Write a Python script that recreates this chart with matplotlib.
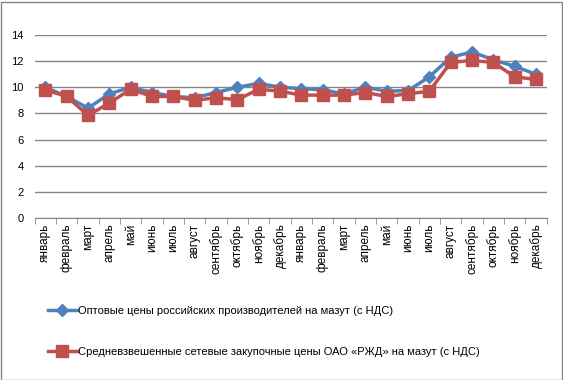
import matplotlib
matplotlib.use("Agg")
from matplotlib import pyplot as plt
from matplotlib.patches import Rectangle
import numpy as np

plt.rcParams['font.family'] = ['Liberation Sans', 'DejaVu Sans']

months = ["январь", "февраль", "март", "апрель", "май", "июнь", "июль", "август",
          "сентябрь", "октябрь", "ноябрь", "декабрь"]
labels = months + months

wholesale = [10.0, 9.3, 8.4, 9.5, 10.0, 9.6, 9.3, 9.2, 9.6, 10.0, 10.3, 10.0,
             9.9, 9.8, 9.5, 10.0, 9.7, 9.75, 10.8, 12.3, 12.7, 12.1, 11.6, 11.0]
rzd = [9.8, 9.3, 7.85, 8.8, 9.85, 9.3, 9.3, 9.0, 9.2, 9.05, 9.85, 9.7,
       9.4, 9.4, 9.4, 9.6, 9.3, 9.5, 9.7, 11.9, 12.05, 11.9, 10.8, 10.6]

name1 = "Оптовые цены российских производителей на мазут (с НДС)"
name2 = "Средневзвешенные сетевые закупочные цены ОАО «РЖД» на мазут (с НДС)"

W, H = 563, 380
fig = plt.figure(figsize=(W / 100, H / 100), dpi=100)
ax = fig.add_axes([34.7 / W, 1 - 218 / H, 512 / W, 183 / H])

x = np.arange(len(labels))
l1, = ax.plot(x, wholesale, color="#4F81BD", lw=2.5, marker="D", ms=6, label=name1)
l2, = ax.plot(x, rzd, color="#C0504D", lw=2.5, marker="s", ms=8, label=name2)

ax.set_xlim(-0.5, len(labels) - 0.5)
ax.set_ylim(0, 14)
ax.set_yticks(range(0, 15, 2))
ax.set_xticks(x)
ax.set_xticklabels(labels, rotation=90, fontsize=8.5)
ax.set_xticks(np.arange(-0.5, len(labels), 1), minor=True)
ax.tick_params(axis="x", which="major", length=0, pad=4)
ax.tick_params(axis="x", which="minor", length=4, color="#868686", direction="out")
ax.tick_params(axis="y", length=0, labelsize=8, pad=8)
ax.grid(axis="y", color="#868686", lw=1)
ax.set_axisbelow(True)
for s in ["top", "right", "left"]:
    ax.spines[s].set_visible(False)
ax.spines["bottom"].set_color("#868686")

fig.legend(handles=[l1, l2], loc="upper left", bbox_to_anchor=(38 / W, 1 - 296 / H),
           frameon=False, fontsize=8, labelspacing=2.75, handlelength=2.6,
           handletextpad=0.1)

fig.patches.append(Rectangle((0.5 / W, 0.5 / H), 1 - 2 / W, 1 - 2 / H,
                             transform=fig.transFigure, fill=False,
                             edgecolor="#868686", lw=1))

fig.savefig("out.png", dpi=100)
